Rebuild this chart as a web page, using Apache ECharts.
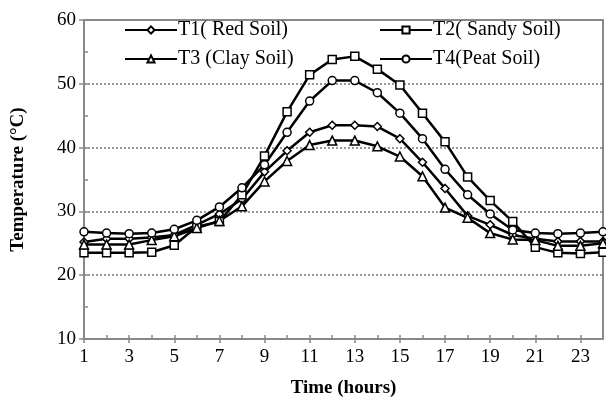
<!DOCTYPE html>
<html>
<head>
<meta charset="utf-8">
<script src="https://cdn.jsdelivr.net/npm/echarts@6/dist/echarts.min.js"></script>
<style>
html,body{margin:0;padding:0;background:#fff;}
#chart{width:606px;height:404px;}
</style>
</head>
<body>
<div id="chart"></div>
<script>
const hours = ['1','2','3','4','5','6','7','8','9','10','11','12','13','14','15','16','17','18','19','20','21','22','23','24'];
const seriesNames = ['T1( Red Soil)', 'T2( Sandy Soil)', 'T3 (Clay Soil)', 'T4(Peat Soil)'];
const t1Red = [25.2, 25.7, 25.7, 25.9, 26.3, 27.9, 29.6, 31.9, 36.2, 39.5, 42.4, 43.5, 43.5, 43.3, 41.4, 37.7, 33.6, 29.3, 27.9, 26.3, 25.7, 25.3, 25.3, 25.3];
const t2Sandy = [23.5, 23.5, 23.5, 23.6, 24.7, 27.6, 28.4, 32.6, 38.7, 45.6, 51.4, 53.8, 54.3, 52.3, 49.8, 45.4, 40.9, 35.4, 31.7, 28.4, 24.4, 23.5, 23.4, 23.6];
const t3Clay = [24.8, 24.8, 24.8, 25.5, 26.1, 27.4, 28.5, 30.8, 34.7, 37.9, 40.4, 41.1, 41.1, 40.2, 38.6, 35.5, 30.6, 29.0, 26.6, 25.6, 25.5, 24.6, 24.6, 25.0];
const t4Peat = [26.8, 26.6, 26.5, 26.6, 27.2, 28.6, 30.7, 33.7, 37.3, 42.4, 47.3, 50.5, 50.5, 48.6, 45.4, 41.4, 36.6, 32.6, 29.6, 27.1, 26.6, 26.5, 26.6, 26.8];
const yTicks = [10, 20, 30, 40, 50, 60];

const FONT = 'Liberation Serif';
const chart = echarts.init(document.getElementById('chart'));
function mkSeries(name, data, symbol) {
  return {
    name: name, type: 'line', data: data, symbol: symbol, symbolSize: symbol === 'triangle' ? 9 : 8,
    xAxisIndex: 0, yAxisIndex: 0,
    lineStyle: {color: '#000', width: 2.5},
    itemStyle: {color: '#fff', borderColor: '#000', borderWidth: 1.5},
    emphasis: {disabled: true}, animation: false
  };
}
const series = [
  mkSeries(seriesNames[0], t1Red, 'diamond'),
  mkSeries(seriesNames[1], t2Sandy, 'rect'),
  mkSeries(seriesNames[2], t3Clay, 'triangle'),
  mkSeries(seriesNames[3], t4Peat, 'circle')
];
const legendCommon = {
  orient: 'vertical', itemWidth: 52, itemHeight: 9, itemGap: 9,
  textStyle: {fontFamily: FONT, fontSize: 20, color: '#000', padding: [0,0,0,-4]},
  padding: 0
};
chart.setOption({
  animation: false,
  grid: {left: 84, right: 3, top: 20, bottom: 65},
  legend: [
    Object.assign({}, legendCommon, {left: 124, top: 20, data: [seriesNames[0], seriesNames[2]]}),
    Object.assign({}, legendCommon, {left: 379, top: 20, data: [seriesNames[1], seriesNames[3]]})
  ],
  xAxis: [{
    type: 'category', data: hours, boundaryGap: false, position: 'bottom',
    axisLine: {lineStyle: {color: '#888', width: 2}},
    axisTick: {show: true, interval: 0, inside: true, length: 4, lineStyle: {color: '#888', width: 1.5}},
    axisLabel: {interval: 1, fontFamily: FONT, fontSize: 19, color: '#000', margin: 9},
    splitLine: {show: false},
    name: 'Time (hours)', nameLocation: 'middle', nameGap: 40,
    nameTextStyle: {fontFamily: FONT, fontSize: 19, fontWeight: 'bold', color: '#000'}
  }, {
    type: 'category', data: hours, boundaryGap: false, position: 'bottom',
    axisLine: {show: false},
    axisTick: {show: true, interval: 1, inside: false, length: 4, lineStyle: {color: '#888', width: 1.5}},
    axisLabel: {show: false}, splitLine: {show: false}
  }, {
    type: 'category', data: hours, boundaryGap: false, position: 'top',
    axisLine: {show: true, lineStyle: {color: '#888', width: 2}},
    axisTick: {show: false}, axisLabel: {show: false}, splitLine: {show: false}
  }],
  yAxis: [{
    type: 'value', min: 10, max: 60, interval: 10,
    axisLine: {show: true, lineStyle: {color: '#888', width: 2}},
    axisTick: {show: true, inside: false, length: 5, lineStyle: {color: '#888', width: 1.5}},
    axisLabel: {fontFamily: FONT, fontSize: 19, color: '#000', margin: 8},
    splitLine: {show: true, lineStyle: {color: '#777', type: [2, 2], width: 1.5}},
    name: 'Temperature (°C)', nameLocation: 'middle', nameGap: 56,
    nameTextStyle: {fontFamily: FONT, fontSize: 19, fontWeight: 'bold', color: '#000'}
  }, {
    type: 'value', min: 10, max: 60, interval: 5, position: 'left',
    axisLine: {show: false},
    axisTick: {show: true, inside: true, length: 4, lineStyle: {color: '#888', width: 1.5}},
    axisLabel: {show: false}, splitLine: {show: false}
  }, {
    type: 'value', min: 10, max: 60, interval: 10, position: 'right',
    axisLine: {show: true, lineStyle: {color: '#888', width: 2}},
    axisTick: {show: false}, axisLabel: {show: false}, splitLine: {show: false}
  }],
  series: series
});
</script>
</body>
</html>
